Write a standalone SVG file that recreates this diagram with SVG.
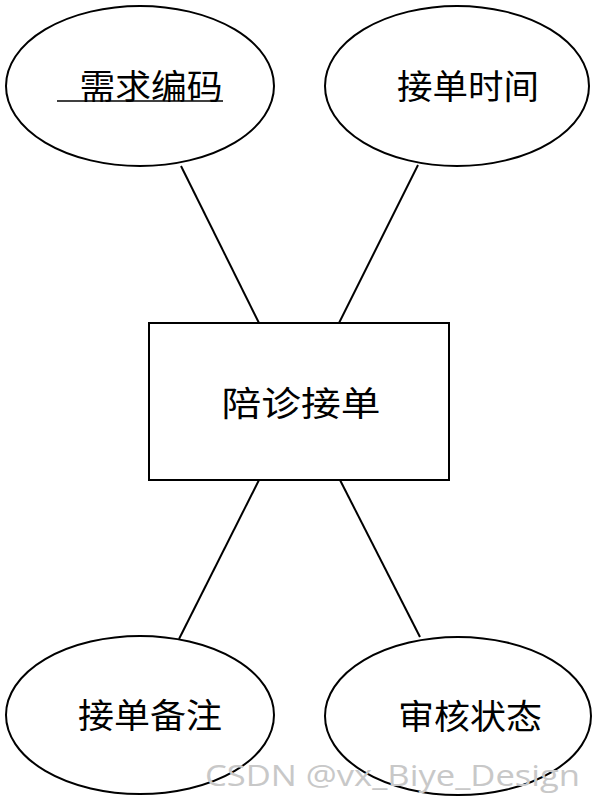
<svg xmlns="http://www.w3.org/2000/svg" width="596" height="802" viewBox="0 0 596 802">
<style>
.shape{fill:#fff;stroke:#000;stroke-width:2}
.conn line{stroke:#000;stroke-width:2}
.lbl{font-family:"Liberation Serif","Noto Sans CJK SC",serif;font-size:34px;fill:#000;text-anchor:middle}
.wm{font-family:"Open Sans","Noto Sans",sans-serif;font-size:29px;fill:#c8c8c8}
</style>
<rect width="596" height="802" fill="#fff"/>
<g class="conn" id="connectors">
<line x1="181" y1="166" x2="259" y2="323"/>
<line x1="418" y1="165" x2="339" y2="323"/>
<line x1="259" y1="480" x2="179" y2="639"/>
<line x1="340" y1="480" x2="420" y2="637"/>
</g>
<g id="n-code">
<ellipse class="shape" cx="140" cy="86" rx="134" ry="80"/>
<text class="lbl" x="151" y="99" textLength="143" lengthAdjust="spacingAndGlyphs">需求编码</text>
<line x1="57" y1="101" x2="223" y2="101" stroke="#000" stroke-width="1.5"/>
</g>
<g id="n-time">
<ellipse class="shape" cx="457" cy="86" rx="132" ry="80"/>
<text class="lbl" x="468" y="99" textLength="142" lengthAdjust="spacingAndGlyphs">接单时间</text>
</g>
<g id="n-entity">
<rect class="shape" x="149" y="323" width="300" height="157"/>
<text class="lbl" x="301" y="416" font-size="40" textLength="159" lengthAdjust="spacingAndGlyphs">陪诊接单</text>
</g>
<g id="n-note">
<ellipse class="shape" cx="140" cy="715" rx="134" ry="79"/>
<text class="lbl" x="150" y="728" textLength="144" lengthAdjust="spacingAndGlyphs">接单备注</text>
</g>
<g id="n-status">
<ellipse class="shape" cx="458" cy="716" rx="133" ry="79"/>
<text class="lbl" x="470" y="729" textLength="144" lengthAdjust="spacingAndGlyphs">审核状态</text>
</g>
<text class="wm" x="205" y="786" textLength="375" lengthAdjust="spacingAndGlyphs">CSDN @vx_Biye_Design</text>
</svg>
